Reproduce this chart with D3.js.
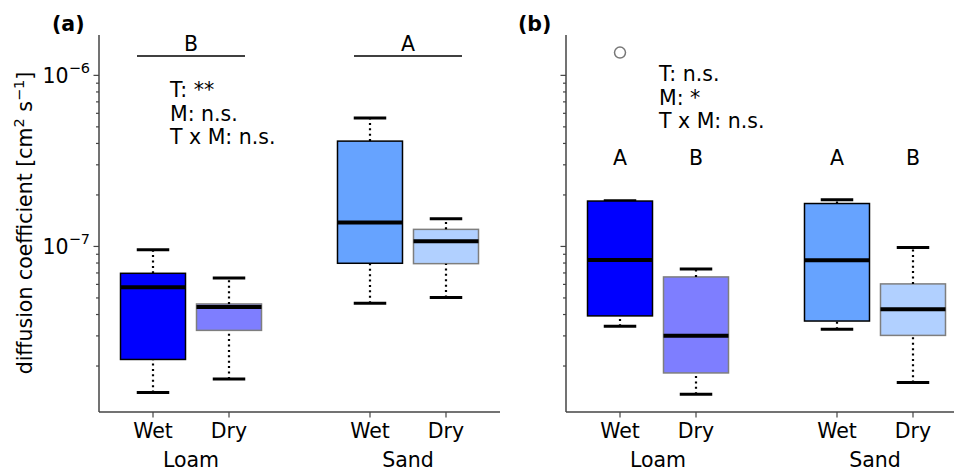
<!DOCTYPE html>
<html>
<head>
<meta charset="utf-8">
<script src="https://cdn.jsdelivr.net/npm/d3@7"></script>
<style>
  body { margin: 0; background: #fff; }
  text { font-family: "DejaVu Sans", sans-serif; fill: #000; }
</style>
</head>
<body>
<svg id="chart" width="954" height="470"></svg>
<script>
// categories
const soils = ["Loam", "Sand"];
const treatments = ["Wet", "Dry"];

// box stats per panel, order: Loam Wet, Loam Dry, Sand Wet, Sand Dry
// [whisker low, Q1, median, Q3, whisker high]
const boxesA = [
  [1.39e-8, 2.17e-8, 5.73e-8, 6.92e-8, 9.5e-8],
  [1.67e-8, 3.21e-8, 4.40e-8, 4.58e-8, 6.5e-8],
  [4.63e-8, 7.92e-8, 1.37e-7, 4.10e-7, 5.6e-7],
  [5.0e-8, 7.88e-8, 1.065e-7, 1.25e-7, 1.44e-7]
];
const boxesB = [
  [3.39e-8, 3.90e-8, 8.28e-8, 1.83e-7, 1.84e-7],
  [1.36e-8, 1.81e-8, 2.99e-8, 6.59e-8, 7.34e-8],
  [3.26e-8, 3.64e-8, 8.25e-8, 1.77e-7, 1.86e-7],
  [1.59e-8, 3.0e-8, 4.27e-8, 6.0e-8, 9.8e-8]
];
const outliersB = [{ box: 0, value: 1.35e-6 }];

// significance letters
const lettersA = ["B", "A"];          // per soil
const lettersB = ["A", "B", "A", "B"]; // per box
const statsTextA = ["T: **", "M: n.s.", "T x M: n.s."];
const statsTextB = ["T: n.s.", "M: *", "T x M: n.s."];

const majorTicks = [1e-6, 1e-7];
const minorTicks = [2e-8, 3e-8, 4e-8, 5e-8, 6e-8, 7e-8, 8e-8, 9e-8,
                    2e-7, 3e-7, 4e-7, 5e-7, 6e-7, 7e-7, 8e-7, 9e-7];

const wetColor = { Loam: "#0000ff", Sand: "#66a3ff" };

const svg = d3.select("#chart");
const fs = 20.5;
const sup = 14.5;
const axisColor = "#444";

const height = { top: 35, bottom: 412 };
const panelW = 401;

const y = d3.scaleLog()
  .domain([1.07e-8, 1.71e-6])
  .range([height.bottom, height.top]);

function drawPanel(x0, boxes, opts) {
  const g = svg.append("g").attr("transform", `translate(${x0},0)`);

  const xSoil = d3.scalePoint().domain(soils).range([0, panelW]).padding(0.424);
  const xTrt = d3.scalePoint().domain(treatments).range([-38, 38]);
  const boxW = 65;

  const items = [];
  soils.forEach((s, i) => treatments.forEach((t, j) => {
    items.push({ soil: s, trt: t, st: boxes[i * 2 + j], idx: i * 2 + j,
                 cx: xSoil(s) + xTrt(t) });
  }));

  // axes
  const yMajor = g.append("g")
    .call(d3.axisLeft(y).tickValues(majorTicks).tickSize(5.5).tickFormat(""));
  const yMinor = g.append("g")
    .call(d3.axisLeft(y).tickValues(minorTicks).tickSize(3).tickFormat(""));
  [yMajor, yMinor].forEach(a => {
    a.select(".domain").remove();
    a.selectAll("line").attr("stroke", axisColor).attr("stroke-width", 1.2);
  });
  g.append("line")
    .attr("x1", 0).attr("x2", 0)
    .attr("y1", height.top).attr("y2", height.bottom)
    .attr("stroke", axisColor).attr("stroke-width", 1.5);

  if (opts.labels) {
    majorTicks.forEach(v => {
      const exp = Math.round(Math.log10(v));
      const t = g.append("text")
        .attr("x", -9).attr("y", y(v) + 7.8)
        .attr("text-anchor", "end")
        .style("font-size", fs + "px");
      t.append("tspan").text("10");
      t.append("tspan").attr("dy", -9.5).style("font-size", sup + "px").text("\u2212" + Math.abs(exp));
    });
  }

  const xAxis = g.append("g")
    .attr("transform", `translate(0,${height.bottom})`);
  xAxis.append("line")
    .attr("x1", 0).attr("x2", panelW)
    .attr("stroke", axisColor).attr("stroke-width", 1.5);
  xAxis.selectAll(".xt")
    .data(items).enter().append("line")
    .attr("x1", d => d.cx).attr("x2", d => d.cx)
    .attr("y1", 0).attr("y2", 5.5)
    .attr("stroke", axisColor).attr("stroke-width", 1.2);
  xAxis.selectAll(".xl")
    .data(items).enter().append("text")
    .attr("x", d => d.cx).attr("y", 25.5)
    .attr("text-anchor", "middle")
    .style("font-size", fs + "px")
    .text(d => d.trt);
  xAxis.selectAll(".sl")
    .data(soils).enter().append("text")
    .attr("x", d => xSoil(d)).attr("y", 55)
    .attr("text-anchor", "middle")
    .style("font-size", fs + "px")
    .text(d => d);

  // boxes
  const bx = g.selectAll(".box").data(items).enter().append("g");

  bx.append("line") // lower whisker
    .attr("x1", d => d.cx).attr("x2", d => d.cx)
    .attr("y1", d => y(d.st[0])).attr("y2", d => y(d.st[1]))
    .attr("stroke", "#000").attr("stroke-width", 2.2).attr("stroke-dasharray", "2,3.4");
  bx.append("line") // upper whisker
    .attr("x1", d => d.cx).attr("x2", d => d.cx)
    .attr("y1", d => y(d.st[3])).attr("y2", d => y(d.st[4]))
    .attr("stroke", "#000").attr("stroke-width", 2.2).attr("stroke-dasharray", "2,3.4");
  [0, 4].forEach(k => {
    bx.append("line")
      .attr("x1", d => d.cx - boxW / 4).attr("x2", d => d.cx + boxW / 4)
      .attr("y1", d => y(d.st[k])).attr("y2", d => y(d.st[k]))
      .attr("stroke", "#000").attr("stroke-width", 3);
  });
  bx.append("rect")
    .attr("x", d => d.cx - boxW / 2).attr("width", boxW)
    .attr("y", d => y(d.st[3]))
    .attr("height", d => y(d.st[1]) - y(d.st[3]))
    .attr("fill", d => wetColor[d.soil])
    .attr("stroke", "#000").attr("stroke-width", 1.5)
    .attr("opacity", d => d.trt === "Dry" ? 0.5 : 1);
  bx.append("line") // median
    .attr("x1", d => d.cx - boxW / 2).attr("x2", d => d.cx + boxW / 2)
    .attr("y1", d => y(d.st[2])).attr("y2", d => y(d.st[2]))
    .attr("stroke", "#000").attr("stroke-width", 4);

  if (opts.outliers) {
    g.selectAll(".out").data(opts.outliers).enter().append("circle")
      .attr("cx", d => items[d.box].cx).attr("cy", d => y(d.value))
      .attr("r", 5.5)
      .attr("fill", "none").attr("stroke", "#777").attr("stroke-width", 1.5);
  }

  // letters
  if (opts.soilLetters) {
    soils.forEach((s, i) => {
      g.append("line")
        .attr("x1", xSoil(s) - 54).attr("x2", xSoil(s) + 54)
        .attr("y1", 56).attr("y2", 56)
        .attr("stroke", "#000").attr("stroke-width", 1.5);
      g.append("text")
        .attr("x", xSoil(s)).attr("y", 51)
        .attr("text-anchor", "middle")
        .style("font-size", fs + "px")
        .text(opts.soilLetters[i]);
    });
  }
  if (opts.boxLetters) {
    g.selectAll(".bl").data(items).enter().append("text")
      .attr("x", d => d.cx).attr("y", 165)
      .attr("text-anchor", "middle")
      .style("font-size", fs + "px")
      .text(d => opts.boxLetters[d.idx]);
  }

  // stats text
  opts.statsText.forEach((s, i) => {
    g.append("text")
      .attr("x", opts.statsPos[0]).attr("y", opts.statsPos[1] + i * 23.5)
      .style("font-size", fs + "px")
      .text(s);
  });

  // panel label
  g.append("text")
    .attr("x", opts.tagX).attr("y", 31)
    .style("font-size", fs + "px").style("font-weight", "bold")
    .text(opts.tag);
}

drawPanel(99, boxesA, {
  labels: true,
  soilLetters: lettersA,
  statsText: statsTextA,
  statsPos: [71, 97],
  tag: "(a)", tagX: -47
});

drawPanel(566, boxesB, {
  labels: false,
  boxLetters: lettersB,
  outliers: outliersB,
  statsText: statsTextB,
  statsPos: [93, 81],
  tag: "(b)", tagX: -48
});

// y label
const yl = svg.append("text")
  .attr("transform", "translate(32,223) rotate(-90)")
  .attr("text-anchor", "middle")
  .style("font-size", fs + "px");
yl.append("tspan").text("diffusion coefficient [cm");
yl.append("tspan").attr("dy", -8.5).style("font-size", sup + "px").text("2");
yl.append("tspan").attr("dy", 8.5).text(" s");
yl.append("tspan").attr("dy", -8.5).style("font-size", sup + "px").text("\u22121");
yl.append("tspan").attr("dy", 8.5).text("]");
</script>
</body>
</html>
